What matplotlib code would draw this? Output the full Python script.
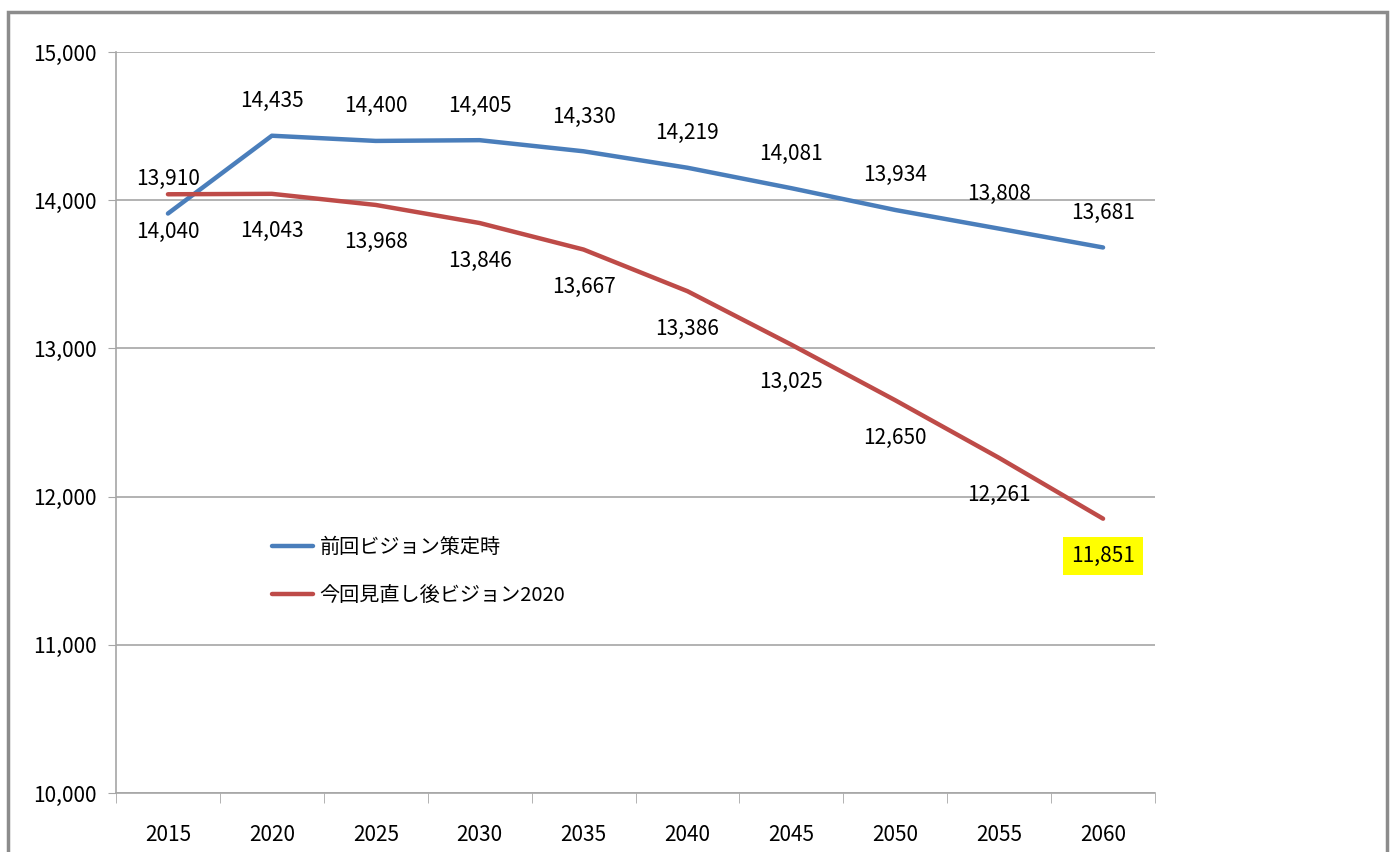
import numpy as np
import matplotlib.pyplot as plt
from matplotlib.patches import Rectangle

years = ['2015', '2020', '2025', '2030', '2035', '2040', '2045', '2050', '2055', '2060']
prev_vision = [13910, 14435, 14400, 14405, 14330, 14219, 14081, 13934, 13808, 13681]
new_vision = [14040, 14043, 13968, 13846, 13667, 13386, 13025, 12650, 12261, 11851]
names = ['前回ビジョン策定時', '今回見直し後ビジョン2020']

plt.rcParams['font.family'] = ['Noto Sans CJK JP', 'DejaVu Sans']

blue = '#4A7EBB'
red = '#BE4B48'
grid_c = '#A6A6A6'

fig = plt.figure(figsize=(13.94, 8.52), dpi=100)
ax = fig.add_axes([116/1394, 1-793/852, (1155-116)/1394, (793-52)/852])

x = np.arange(len(years))
ax.plot(x, prev_vision, color=blue, lw=3.2, label=names[0], solid_capstyle='round')
ax.plot(x, new_vision, color=red, lw=3.2, label=names[1], solid_capstyle='round')

for i in range(len(x)):
    ax.annotate(f'{prev_vision[i]:,}', (x[i], prev_vision[i]), xytext=(0, 25),
                textcoords='offset points', ha='center', va='center', fontsize=15)
    if i == len(x) - 1:
        # 最後の値は黄色で強調
        ax.annotate(f'{new_vision[i]:,}', (x[i], new_vision[i]), xytext=(0, -27),
                    textcoords='offset points', ha='center', va='center', fontsize=15,
                    bbox=dict(boxstyle='square,pad=0.38', fc='yellow', ec='none'))
    else:
        ax.annotate(f'{new_vision[i]:,}', (x[i], new_vision[i]), xytext=(0, -27),
                    textcoords='offset points', ha='center', va='center', fontsize=15)

ax.set_xlim(-0.5, 9.5)
ax.set_ylim(10000, 15000)
ax.set_yticks(np.arange(10000, 15001, 1000))
ax.set_yticklabels([f'{v:,}' for v in range(10000, 15001, 1000)])
ax.set_xticks(x)
ax.set_xticklabels(years)
ax.set_xticks(np.arange(-0.5, 10, 1), minor=True)

ax.grid(axis='y', color=grid_c, lw=1.2)
ax.set_axisbelow(True)
for s in ['top', 'right']:
    ax.spines[s].set_visible(False)
for s in ['left', 'bottom']:
    ax.spines[s].set_color(grid_c)
    ax.spines[s].set_linewidth(1.2)

ax.tick_params(axis='y', which='major', length=6, color=grid_c, labelsize=15, pad=8)
ax.tick_params(axis='x', which='major', length=0, labelsize=15, pad=22)
ax.tick_params(axis='x', which='minor', length=7, color=grid_c, direction='out')

ax.legend(loc='upper left', bbox_to_anchor=(0.133, 0.37), frameon=False,
          handlelength=2.0, labelspacing=1.35, handletextpad=0.35,
          prop={'family': ['Noto Sans CJK JP', 'DejaVu Sans'], 'size': 14.5})

fig.patches.append(Rectangle((8/1394, -0.05), (1387-8)/1394, 1-12/852+0.05,
                             transform=fig.transFigure, fill=False, ec='#8C8C8C', lw=2.5))

fig.savefig('out.png', dpi=100)
